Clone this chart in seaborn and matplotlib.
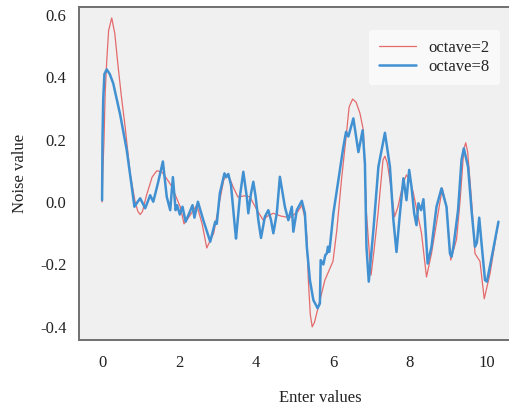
import matplotlib
matplotlib.use("Agg")
import matplotlib.pyplot as plt
import seaborn as sns
import pandas as pd

# octave=2 series (x, y)
x_oct2 = [0.0, 0.02, 0.05, 0.08, 0.12, 0.17, 0.25, 0.33, 0.42, 0.5, 0.6, 0.73, 0.86, 0.93,
          0.99, 1.05, 1.15, 1.3, 1.42, 1.55, 1.68, 1.81, 2.03, 2.13, 2.3, 2.46, 2.6, 2.72,
          2.9, 3.05, 3.16, 3.24, 3.32, 3.4, 3.53, 3.7, 3.84, 4.0, 4.18, 4.3, 4.45, 4.65, 4.88,
          5.09, 5.19, 5.27, 5.32, 5.36, 5.41, 5.46, 5.52, 5.62, 5.79, 6.0, 6.1, 6.22, 6.35,
          6.42, 6.51, 6.6, 6.7, 6.79, 6.87, 6.96, 6.99, 7.08, 7.17, 7.3, 7.35, 7.41, 7.48,
          7.6, 7.69, 7.82, 7.91, 8.0, 8.09, 8.3, 8.43, 8.56, 8.73, 8.84, 8.95, 9.06, 9.21,
          9.3, 9.4, 9.45, 9.5, 9.6, 9.69, 9.82, 9.93, 10.08, 10.3]
y_oct2 = [0.0, 0.1, 0.2, 0.35, 0.45, 0.55, 0.59, 0.54, 0.43, 0.34, 0.24, 0.09, 0.0, -0.03,
          -0.04, -0.03, 0.02, 0.08, 0.10, 0.097, 0.075, 0.05, -0.015, -0.07, -0.04, -0.01,
          -0.07, -0.147, -0.1, 0.0, 0.07, 0.087, 0.075, 0.05, 0.016, 0.02, 0.017, -0.02,
          -0.057, -0.045, -0.036, -0.045, -0.05, -0.03, -0.01, -0.05, -0.11, -0.25, -0.36,
          -0.40, -0.385, -0.335, -0.25, -0.19, -0.09, 0.07, 0.22, 0.305, 0.33, 0.32, 0.285,
          0.23, -0.036, -0.19, -0.234, -0.14, -0.037, 0.135, 0.147, 0.125, 0.07, -0.047,
          -0.015, 0.06, 0.087, 0.07, 0.028, -0.1, -0.24, -0.165, -0.037, 0.044, -0.015,
          -0.186, -0.12, 0.0, 0.17, 0.19, 0.16, 0.006, -0.165, -0.19, -0.31, -0.23, -0.063]

# octave=8 series
x_oct8 = [0.0, 0.01, 0.03, 0.06, 0.12, 0.2, 0.29, 0.47, 0.64, 0.77, 0.84, 0.92, 0.99, 1.12,
          1.25, 1.33, 1.45, 1.58, 1.68, 1.77, 1.84, 1.91, 1.95, 2.02, 2.09, 2.17, 2.25, 2.35,
          2.4, 2.49, 2.63, 2.81, 2.94, 2.98, 3.06, 3.18, 3.23, 3.28, 3.35, 3.45, 3.48, 3.58,
          3.67, 3.76, 3.8, 3.87, 3.93, 3.99, 4.06, 4.13, 4.23, 4.32, 4.39, 4.45, 4.54, 4.62,
          4.75, 4.84, 4.93, 4.97, 5.06, 5.19, 5.27, 5.32, 5.4, 5.49, 5.6, 5.66, 5.68, 5.75,
          5.8, 5.84, 5.87, 5.9, 5.92, 6.01, 6.14, 6.27, 6.34, 6.4, 6.53, 6.66, 6.77, 6.83,
          6.87, 6.93, 7.05, 7.18, 7.35, 7.48, 7.57, 7.65, 7.74, 7.83, 7.91, 7.98, 8.04, 8.11,
          8.17, 8.22, 8.29, 8.35, 8.39, 8.46, 8.56, 8.69, 8.82, 8.95, 9.04, 9.08, 9.13, 9.25,
          9.34, 9.4, 9.51, 9.6, 9.69, 9.74, 9.8, 9.86, 9.95, 10.0, 10.16, 10.3]
y_oct8 = [0.006, 0.2, 0.33, 0.41, 0.425, 0.41, 0.38, 0.28, 0.167, 0.05, -0.015, 0.0, 0.012,
          -0.02, 0.022, 0.001, 0.06, 0.13, 0.017, -0.026, 0.08, -0.026, -0.01, -0.04, -0.015,
          -0.063, -0.04, -0.01, -0.05, 0.001, -0.058, -0.127, -0.063, -0.07, 0.028, 0.092,
          0.08, 0.09, 0.054, -0.08, -0.117, 0.017, 0.097, 0.017, -0.036, 0.028, 0.065, 0.017,
          -0.058, -0.115, -0.047, -0.026, -0.058, -0.1, -0.036, 0.081, -0.015, -0.058,
          -0.015, -0.095, -0.026, 0.004, -0.036, -0.143, -0.25, -0.314, -0.34, -0.325,
          -0.186, -0.2, -0.17, -0.165, -0.143, -0.16, -0.143, -0.036, 0.07, 0.177, 0.225,
          0.21, 0.268, 0.16, 0.23, 0.124, -0.143, -0.255, -0.09, 0.113, 0.222, 0.113, -0.058,
          -0.16, -0.036, 0.076, 0.006, 0.103, 0.049, -0.036, -0.074, -0.004, -0.026, 0.009,
          -0.058, -0.197, -0.143, -0.015, 0.044, -0.015, -0.165, -0.175, -0.143, -0.026,
          0.135, 0.172, 0.113, -0.026, -0.143, -0.13, -0.05, -0.132, -0.25, -0.255, -0.154,
          -0.063]

x_ticks = [0, 2, 4, 6, 8, 10]
y_ticks = [-0.4, -0.2, 0.0, 0.2, 0.4, 0.6]
series_labels = ["octave=2", "octave=8"]

sns.set_style("white")
plt.rcParams["font.family"] = ["Liberation Serif", "DejaVu Serif"]
plt.rcParams["axes.unicode_minus"] = False

fig = plt.figure(figsize=(5.1, 4.09), dpi=100)
ax = fig.add_axes([79 / 510, 1 - 340 / 409, 1 - 79 / 510, 333 / 409])
ax.set_facecolor("#f0f0f0")

df2 = pd.DataFrame({"x": x_oct2, "y": y_oct2})
df8 = pd.DataFrame({"x": x_oct8, "y": y_oct8})
sns.lineplot(data=df2, x="x", y="y", ax=ax, color="#e46a6c", linewidth=0.9,
             label=series_labels[0], sort=False)
sns.lineplot(data=df8, x="x", y="y", ax=ax, color="#4191d2", linewidth=1.8,
             label=series_labels[1], sort=False)
for ln in ax.get_lines():
    ln.set_solid_joinstyle("round")
    ln.set_antialiased(True)

ax.set_xlim(-0.6, 10.6)
ax.set_ylim(-0.442, 0.625)
ax.set_xticks(x_ticks)
ax.set_xticklabels([str(t) for t in x_ticks])
ax.set_yticks(y_ticks)
ax.set_yticklabels([f"{t:.1f}" for t in y_ticks])
ax.tick_params(axis="both", length=0, labelsize=12, colors="#222222")
ax.tick_params(axis="x", pad=11)
ax.tick_params(axis="y", pad=9)

for side in ["top", "left", "bottom"]:
    ax.spines[side].set_color("#707070")
    ax.spines[side].set_linewidth(1.4)
ax.spines["right"].set_visible(False)

ax.set_xlabel("Enter values", fontsize=12, color="#222222")
ax.set_ylabel("Noise value", fontsize=12, color="#222222")
ax.xaxis.set_label_coords((320 - 79) / 431, -0.15)
ax.yaxis.set_label_coords(-(79 - 28) / 431, 0.5)

leg = ax.legend(loc="upper right", bbox_to_anchor=(0.977, 0.931), borderaxespad=0,
                fontsize=12, frameon=True, handlelength=2.2, labelspacing=0.2,
                borderpad=0.6)
leg.get_frame().set_facecolor("#f9f9f9")
leg.get_frame().set_edgecolor("none")
leg.get_frame().set_alpha(1.0)

fig.savefig("out.png", dpi=100)
